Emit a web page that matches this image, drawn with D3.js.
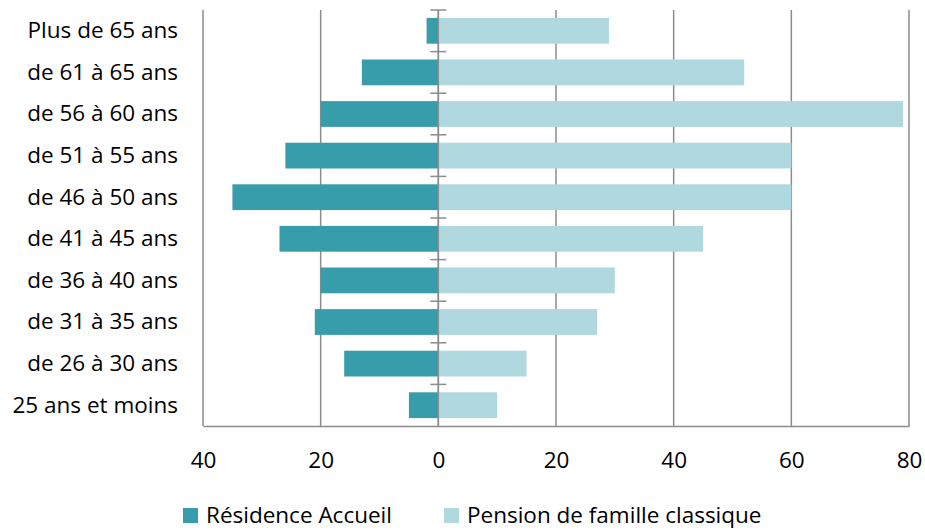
<!DOCTYPE html>
<html>
<head>
<meta charset="utf-8">
<script src="https://cdn.jsdelivr.net/npm/d3@7"></script>
<style>
  body { margin: 0; background: #fff; }
  text { font-family: "Open Sans", sans-serif; fill: #000; }
</style>
</head>
<body>
<div id="chart"></div>
<script>
// Data
var categories = ["Plus de 65 ans", "de 61 à 65 ans", "de 56 à 60 ans", "de 51 à 55 ans",
                  "de 46 à 50 ans", "de 41 à 45 ans", "de 36 à 40 ans", "de 31 à 35 ans",
                  "de 26 à 30 ans", "25 ans et moins"];
var residence = [2, 13, 20, 26, 35, 27, 20, 21, 16, 5];
var pension = [29, 52, 79, 60, 60, 45, 30, 27, 15, 10];
var seriesNames = ["Résidence Accueil", "Pension de famille classique"];
var xTicks = [-40, -20, 0, 20, 40, 60, 80];

var width = 925, height = 530;
var margin = { top: 10, right: 16, bottom: 104, left: 203 };
var plotW = width - margin.left - margin.right,
    plotH = height - margin.top - margin.bottom;
var fontSize = "22.5px";

var svg = d3.select("#chart").append("svg")
    .attr("width", width)
    .attr("height", height);

var g = svg.append("g")
    .attr("transform", "translate(" + margin.left + "," + margin.top + ")");

var x = d3.scaleLinear().domain([-40, 80]).range([0, plotW]);
var y = d3.scaleBand().domain(categories).range([0, plotH]).paddingInner(0.38).paddingOuter(0.19);
var band = d3.scaleBand().domain(categories).range([0, plotH]);

// vertical gridlines
g.selectAll(".grid")
    .data(xTicks)
  .enter().append("line")
    .attr("class", "grid")
    .attr("x1", function(d) { return x(d); })
    .attr("x2", function(d) { return x(d); })
    .attr("y1", 0)
    .attr("y2", plotH)
    .attr("stroke", "#8c8c8c")
    .attr("stroke-width", 1.5);

// bars
g.selectAll(".left")
    .data(categories)
  .enter().append("rect")
    .attr("class", "left")
    .attr("x", function(d, i) { return x(-residence[i]); })
    .attr("width", function(d, i) { return x(0) - x(-residence[i]); })
    .attr("y", function(d) { return y(d); })
    .attr("height", y.bandwidth())
    .attr("fill", "#379DAB");

g.selectAll(".right")
    .data(categories)
  .enter().append("rect")
    .attr("class", "right")
    .attr("x", x(0))
    .attr("width", function(d, i) { return x(pension[i]) - x(0); })
    .attr("y", function(d) { return y(d); })
    .attr("height", y.bandwidth())
    .attr("fill", "#AFD9DF");

// centre axis with category ticks
g.append("line")
    .attr("x1", x(0)).attr("x2", x(0))
    .attr("y1", 0).attr("y2", plotH)
    .attr("stroke", "#8c8c8c")
    .attr("stroke-width", 1.5);

var bounds = categories.map(function(d) { return band(d); });
g.selectAll(".ctick")
    .data(bounds)
  .enter().append("line")
    .attr("class", "ctick")
    .attr("x1", x(0) - 8).attr("x2", x(0) + 8)
    .attr("y1", function(d) { return d; })
    .attr("y2", function(d) { return d; })
    .attr("stroke", "#8c8c8c")
    .attr("stroke-width", 1.5);

// category labels
g.selectAll(".cat")
    .data(categories)
  .enter().append("text")
    .attr("class", "cat")
    .attr("x", -25)
    .attr("y", function(d) { return band(d) + band.bandwidth() / 2; })
    .attr("dy", "0.33em")
    .attr("text-anchor", "end")
    .style("font-size", fontSize)
    .text(function(d) { return d; });

// bottom axis
var xAxis = d3.axisBottom(x)
    .tickValues(xTicks)
    .tickSize(0)
    .tickPadding(26)
    .tickFormat(function(d) { return Math.abs(d); });

var ax = g.append("g")
    .attr("transform", "translate(0," + plotH + ")")
    .call(xAxis);
ax.select(".domain").attr("stroke", "#8c8c8c").attr("stroke-width", 1.5);
ax.selectAll("text").style("font-size", fontSize).style("font-family", "'Open Sans', sans-serif");

// legend
var legendX = [183, 444];
var legendColors = ["#379DAB", "#AFD9DF"];
var legend = svg.selectAll(".legend")
    .data(seriesNames)
  .enter().append("g")
    .attr("class", "legend")
    .attr("transform", function(d, i) { return "translate(" + legendX[i] + ",508)"; });

legend.append("rect")
    .attr("width", 15)
    .attr("height", 15)
    .attr("fill", function(d, i) { return legendColors[i]; });

legend.append("text")
    .attr("x", 23)
    .attr("y", 15)
    .style("font-size", fontSize)
    .text(function(d) { return d; });
</script>
</body>
</html>
